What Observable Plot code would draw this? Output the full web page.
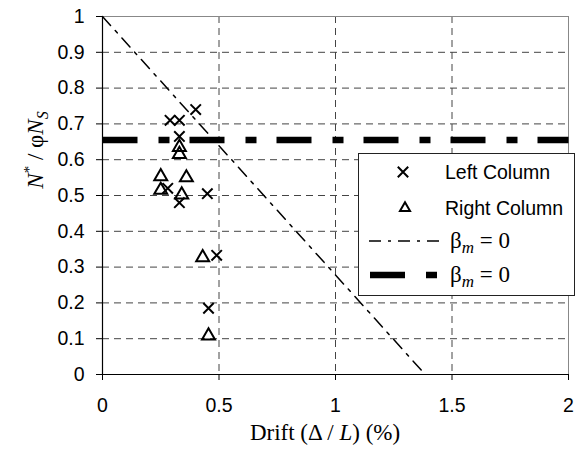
<!DOCTYPE html>
<html><head><meta charset="utf-8">
<script src="https://cdn.jsdelivr.net/npm/d3@7"></script>
<script src="https://cdn.jsdelivr.net/npm/@observablehq/plot@0.6"></script>
<style>body{margin:0;background:#fff}</style>
</head><body><div id="chart"></div>
<script>
// Left Column (×) points
const leftX = [0.40, 0.29, 0.33, 0.33, 0.28, 0.33, 0.45, 0.49, 0.455];
const leftY = [0.74, 0.71, 0.71, 0.665, 0.52, 0.48, 0.505, 0.333, 0.185];
// Right Column (△) points
const rightX = [0.33, 0.33, 0.25, 0.36, 0.25, 0.34, 0.43, 0.455];
const rightY = [0.635, 0.615, 0.553, 0.55, 0.515, 0.502, 0.327, 0.108];
// β_m = 0 lines
const diagX = [0, 1.385];
const diagY = [1, 0];
const horizX = [0, 2];
const horizY = [0.655, 0.655];
// ticks
const xTicks = [0, 0.5, 1, 1.5, 2];
const yTicks = [0, 0.1, 0.2, 0.3, 0.4, 0.5, 0.6, 0.7, 0.8, 0.9, 1];
const xGrid = [0.5, 1, 1.5];
const yGrid = [0.1, 0.2, 0.3, 0.4, 0.5, 0.6, 0.7, 0.8, 0.9];
const legendLabels = ["Left Column", "Right Column", "β", "β"];

const left = leftX.map((x, i) => ({x, y: leftY[i]}));
const right = rightX.map((x, i) => ({x, y: rightY[i]}));
const diag = diagX.map((x, i) => ({x, y: diagY[i]}));
const horiz = horizX.map((x, i) => ({x, y: horizY[i]}));

const fmt = d => String(+d.toFixed(1));
const sans = "'Liberation Sans', Arial, sans-serif";
const serif = "'Liberation Serif', 'Times New Roman', serif";

const chart = Plot.plot({
  width: 582, height: 454,
  marginLeft: 102, marginRight: 14, marginTop: 16, marginBottom: 80,
  style: {fontFamily: sans, fontSize: "19.5px", background: "#fff", color: "#000", overflow: "visible"},
  x: {domain: [0, 2], label: null},
  y: {domain: [0, 1], label: null},
  marks: [
    Plot.gridX(xGrid, {stroke: "#444", strokeOpacity: 1, strokeDasharray: "7,5"}),
    Plot.gridY(yGrid, {stroke: "#444", strokeOpacity: 1, strokeDasharray: "7,5"}),
    Plot.ruleY([1], {stroke: "#888"}),
    Plot.ruleX([2], {stroke: "#888"}),
    Plot.line(diag, {x: "x", y: "y", stroke: "#000", strokeWidth: 1.5, strokeDasharray: "12,7,3,7"}),
    Plot.line(horiz, {x: "x", y: "y", stroke: "#000", strokeWidth: 6.5, strokeDasharray: "35,21,11,20", strokeLinecap: "butt"}),
    Plot.dot(left, {x: "x", y: "y", symbol: "times", r: 4.8, stroke: "#000", strokeWidth: 2}),
    Plot.dot(right, {x: "x", y: "y", symbol: "triangle", r: 4.8, stroke: "#000", strokeWidth: 2, fill: "none"}),
    Plot.axisX({ticks: xTicks, tickSize: 6, tickPadding: 18, tickFormat: fmt, fontSize: 19.5}),
    Plot.axisY({ticks: yTicks, tickSize: 6, tickPadding: 12, tickFormat: fmt, fontSize: 19.5}),
    Plot.ruleX([0], {stroke: "#000", strokeWidth: 1.2}),
    Plot.ruleY([0], {stroke: "#000", strokeWidth: 1.2})
  ]
});
document.getElementById("chart").append(chart);

const svg = d3.select(chart);
// X title
const xt = svg.append("text").attr("x", 325).attr("y", 440)
  .attr("text-anchor", "middle").attr("font-family", serif).attr("font-size", 23).attr("fill", "#000");
xt.append("tspan").text("Drift (Δ / ");
xt.append("tspan").attr("font-style", "italic").text("L");
xt.append("tspan").text(") (%)");
// Y title
const yt = svg.append("text").attr("transform", "translate(43,150) rotate(-90)")
  .attr("text-anchor", "middle").attr("font-family", serif).attr("font-size", 23).attr("fill", "#000");
yt.append("tspan").attr("font-style", "italic").text("N");
yt.append("tspan").attr("dy", -9).attr("font-size", 15).text("*");
yt.append("tspan").attr("dy", 9).text(" / φ");
yt.append("tspan").attr("font-style", "italic").text("N");
yt.append("tspan").attr("dy", 5).attr("font-size", 16).attr("font-style", "italic").text("S");

// Legend
const lg = svg.append("g").attr("text-anchor", "start");
lg.append("rect").attr("x", 358.5).attr("y", 153.5).attr("width", 216).attr("height", 142)
  .attr("fill", "#fff").attr("stroke", "#222").attr("stroke-width", 1);
const rowsY = [172, 208, 241, 275];
lg.append("path").attr("transform", `translate(403,${rowsY[0]})`)
  .attr("d", d3.symbol(d3.symbolTimes, Math.PI * 4.8 * 4.8)()).attr("stroke", "#000").attr("stroke-width", 2).attr("fill", "none");
lg.append("path").attr("transform", `translate(405,${rowsY[1]})`)
  .attr("d", d3.symbol(d3.symbolTriangle2, Math.PI * 4.8 * 4.8)()).attr("stroke", "#000").attr("stroke-width", 2).attr("fill", "none");
lg.append("line").attr("x1", 369).attr("x2", 440).attr("y1", rowsY[2]).attr("y2", rowsY[2])
  .attr("stroke", "#000").attr("stroke-width", 1.5).attr("stroke-dasharray", "12,7,3,7");
lg.append("line").attr("x1", 370).attr("x2", 437).attr("y1", rowsY[3]).attr("y2", rowsY[3])
  .attr("stroke", "#000").attr("stroke-width", 6.5).attr("stroke-dasharray", "35,21,11,20");
[0, 1].forEach(i => {
  lg.append("text").attr("x", 445).attr("y", rowsY[i]).attr("dy", "0.35em").attr("text-anchor", "start")
    .attr("font-family", sans).attr("font-size", 19.5).attr("fill", "#000").text(legendLabels[i]);
});
[2, 3].forEach(i => {
  const t = lg.append("text").attr("x", 450).attr("y", rowsY[i]).attr("dy", "0.3em").attr("text-anchor", "start")
    .attr("font-family", serif).attr("font-size", 23).attr("fill", "#000");
  t.append("tspan").text(legendLabels[i]);
  t.append("tspan").attr("dy", 5).attr("font-style", "italic").attr("font-size", 17).text("m");
  t.append("tspan").attr("dy", -5).text(" = 0");
});
</script>
</body></html>
